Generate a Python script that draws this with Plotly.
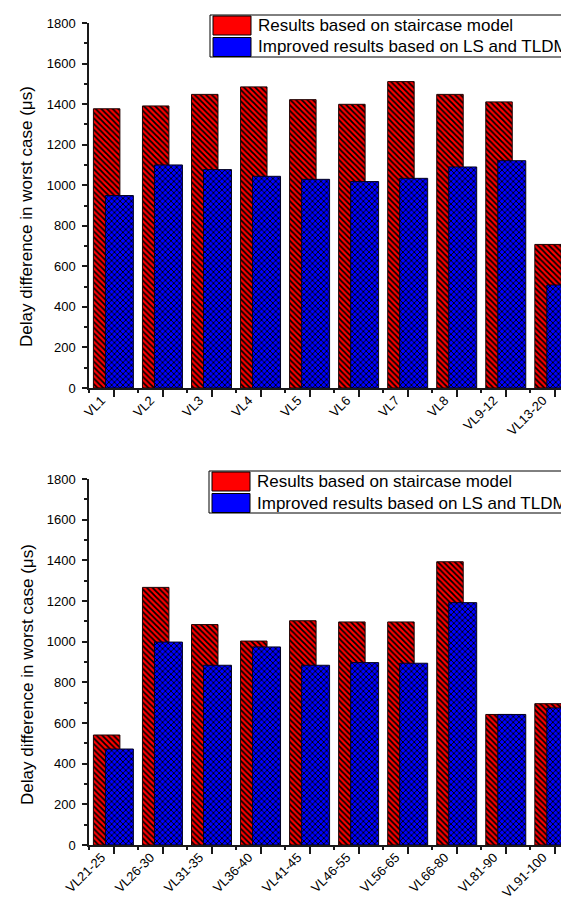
import plotly.graph_objects as go

# ---- data ----
top_categories = ["VL1", "VL2", "VL3", "VL4", "VL5", "VL6", "VL7", "VL8", "VL9-12", "VL13-20"]
top_staircase = [1377, 1391, 1448, 1485, 1422, 1399, 1511, 1448, 1411, 708]
top_improved = [949, 1100, 1077, 1044, 1029, 1018, 1034, 1090, 1121, 508]

bottom_categories = ["VL21-25", "VL26-30", "VL31-35", "VL36-40", "VL41-45",
                     "VL46-55", "VL56-65", "VL66-80", "VL81-90", "VL91-100"]
bottom_staircase = [541, 1267, 1084, 1003, 1103, 1097, 1097, 1393, 642, 695]
bottom_improved = [472, 998, 884, 974, 884, 897, 894, 1192, 642, 674]

series_names = ["Results based on staircase model", "Improved results based on LS and TLDM"]
y_title = "Delay difference in worst case (\u03bcs)"
y_tick_values = [0, 200, 400, 600, 800, 1000, 1200, 1400, 1600, 1800]
grid_values = [200, 400, 600, 800, 1000, 1200, 1400, 1600]

# ---- styles / layout constants (pixels) ----
FONT = "Arial, Liberation Sans, sans-serif"
W, H = 569, 902
ML = 81                      # left margin = plot-area left edge
PW = W - ML                  # plot-area width
AX = "#1a1a1a"
RED, BLUE = "#ff0000", "#0000ff"


def px_x(x):
    return (x - ML) / PW


def px_y(y):
    return (H - y) / H


red_marker = dict(color=RED, line=dict(color="#200000", width=1),
                  pattern=dict(shape="\\", fgcolor="#000000", bgcolor=RED,
                               size=4, solidity=0.45, fillmode="replace"))
blue_marker = dict(color=BLUE, line=dict(color="#000020", width=1),
                   pattern=dict(shape="x", fgcolor="#000000", bgcolor=BLUE,
                                size=4, solidity=0.4, fillmode="replace"))

fig = go.Figure()


def add_chart(cats, red, blue, xa, ya):
    idx = list(range(len(cats)))
    fig.add_trace(go.Bar(x=idx, y=red, name=series_names[0], marker=red_marker,
                         width=0.54, offset=-0.41, xaxis=xa, yaxis=ya, showlegend=False))
    fig.add_trace(go.Bar(x=idx, y=blue, name=series_names[1], marker=blue_marker,
                         width=0.57, offset=-0.165, xaxis=xa, yaxis=ya, showlegend=False))


add_chart(top_categories, top_staircase, top_improved, "x", "y")
add_chart(bottom_categories, bottom_staircase, bottom_improved, "x2", "y2")


def xaxis_cfg(cats, anchor):
    return dict(domain=[0, 1], anchor=anchor, range=[-0.5, 9.45],
                tickmode="array", tickvals=list(range(len(cats))), ticktext=cats,
                tickangle=-45, ticks="outside", ticklen=7, tickwidth=1.5, tickcolor=AX,
                minor=dict(tickmode="linear", tick0=-0.5, dtick=1, ticks="outside",
                           ticklen=3, tickwidth=1.5, tickcolor=AX),
                showline=True, linecolor=AX, linewidth=1.5,
                showgrid=False, zeroline=False, automargin=False,
                ticklabelstandoff=-9, ticklabelshift=-12,
                tickfont=dict(size=13, color="#000", family=FONT))


def yaxis_cfg(domain, anchor):
    return dict(domain=domain, anchor=anchor, range=[0, 1800],
                tickmode="array", tickvals=y_tick_values,
                ticks="outside", ticklen=5, tickwidth=1.5, tickcolor=AX,
                minor=dict(tickmode="linear", tick0=0, dtick=100, ticks="outside",
                           ticklen=3, tickwidth=1.5, tickcolor=AX),
                showline=True, linecolor=AX, linewidth=1.5,
                showgrid=False, zeroline=False, automargin=False,
                ticklabelstandoff=4,
                tickfont=dict(size=13, color="#000", family=FONT))


def grid_cfg(over, anchor):
    return dict(overlaying=over, anchor=anchor, range=[0, 1800],
                tickmode="array", tickvals=grid_values, showticklabels=False,
                ticks="", showline=False, zeroline=False,
                showgrid=True, gridcolor="#a6a6a6", griddash="dash", gridwidth=1)


top_dom = [px_y(380), px_y(15)]
bot_dom = [px_y(837), px_y(471)]

shapes, annotations = [], []

# ---- y-axis titles ----
for yc in (209, 667):
    annotations.append(dict(xref="paper", yref="paper", x=px_x(19), y=px_y(yc),
                            xanchor="center", yanchor="middle", textangle=-90,
                            text=y_title, showarrow=False,
                            font=dict(size=17, color="#000", family=FONT)))


# ---- legend (box, swatches, labels) drawn per chart ----
def add_legend(left, top):
    right, bottom = 568, top + 42
    shapes.append(dict(type="rect", xref="paper", yref="paper",
                       x0=px_x(left), x1=px_x(right), y0=px_y(bottom), y1=px_y(top),
                       line=dict(color="#000", width=1), fillcolor="#ffffff", layer="above"))
    for i, (name, col) in enumerate(zip(series_names, [RED, BLUE])):
        y0 = top + 1 + i * 21.5
        shapes.append(dict(type="rect", xref="paper", yref="paper",
                           x0=px_x(left + 3), x1=px_x(left + 41),
                           y0=px_y(y0 + 19), y1=px_y(y0),
                           line=dict(color="#000", width=1), fillcolor=col, layer="above"))
        annotations.append(dict(xref="paper", yref="paper", x=px_x(left + 46),
                                y=px_y(y0 + 9.5), xanchor="left", yanchor="middle",
                                text=name, showarrow=False,
                                font=dict(size=17, color="#000", family=FONT)))


add_legend(202, 7)
add_legend(201, 463)

fig.update_layout(
    width=W, height=H,
    margin=dict(l=ML, r=0, t=0, b=0, autoexpand=False),
    paper_bgcolor="#ffffff", plot_bgcolor="#ffffff",
    font=dict(family=FONT, color="#000"),
    barmode="overlay",
    showlegend=False,
    xaxis=xaxis_cfg(top_categories, "y"),
    yaxis=yaxis_cfg(top_dom, "x"),
    xaxis2=xaxis_cfg(bottom_categories, "y2"),
    yaxis2=yaxis_cfg(bot_dom, "x2"),
    yaxis3=grid_cfg("y", "x"),
    yaxis4=grid_cfg("y2", "x2"),
    shapes=shapes,
    annotations=annotations,
)

fig.write_html("out.html")
